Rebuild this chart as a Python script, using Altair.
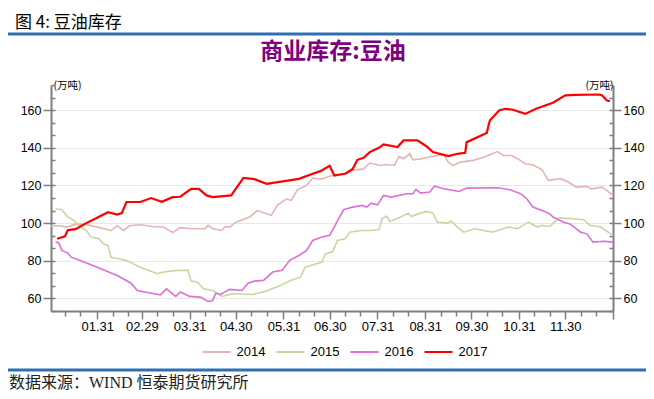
import altair as alt
import pandas as pd

# ---------------- data (day of year 0 = Jan 1, value in 万吨) ----------------
years = ["2014", "2015", "2016", "2017"]
colors = ["#E6B4B4", "#C6D7A2", "#DD6FD6", "#FF0000"]

s2014 = [(0, 98.6), (6, 98.6), (10, 97.9), (17, 99.6), (23, 99.2), (32, 97.5), (39, 96.0), (43, 98.6),
         (47, 96.1), (51, 98.6), (58, 99.1), (66, 98.2), (73, 97.9), (79, 95.0), (84, 97.6), (92, 97.0),
         (100, 97.0), (102, 98.8), (105, 97.0), (111, 96.1), (113, 98.2), (116, 97.9), (120, 100.5),
         (129, 103.2), (134, 106.7), (137, 105.8), (143, 104.1), (147, 109.4), (153, 112.9), (156, 112.0),
         (160, 117.7), (166, 120.0), (170, 123.9), (176, 123.4), (180, 124.6), (185, 125.8), (192, 126.2),
         (196, 128.0), (203, 128.8), (207, 131.9), (214, 130.6), (218, 131.1), (223, 130.6), (226, 135.4),
         (229, 134.2), (233, 136.8), (235, 133.6), (241, 134.2), (247, 135.4), (255, 136.5), (258, 132.4),
         (261, 130.6), (266, 132.4), (274, 133.3), (281, 135.0), (290, 138.0), (294, 135.9), (299, 135.9),
         (303, 134.2), (308, 131.5), (313, 131.0), (319, 128.3), (323, 122.7), (331, 123.6), (336, 121.8),
         (341, 119.1), (348, 119.5), (351, 118.2), (358, 119.1), (361, 117.3), (365, 114.7)]

s2015 = [(3, 107.6), (7, 107.1), (11, 103.2), (15, 101.4), (18, 98.8), (23, 96.1), (26, 92.6), (31, 91.7),
         (34, 89.0), (37, 88.1), (39, 81.9), (44, 81.1), (49, 80.2), (58, 76.6), (69, 73.1), (73, 74.0),
         (82, 74.9), (89, 74.9), (91, 69.2), (95, 68.7), (99, 65.1), (105, 64.2), (108, 62.8), (111, 61.1),
         (118, 62.5), (131, 62.1), (140, 63.9), (149, 66.9), (156, 69.6), (162, 71.3), (165, 76.6),
         (176, 79.3), (178, 83.5), (183, 84.9), (186, 90.8), (191, 91.7), (194, 95.2), (201, 96.1),
         (207, 96.1), (213, 96.5), (215, 102.3), (218, 103.7), (220, 100.9), (227, 103.2), (232, 105.3),
         (234, 103.5), (240, 105.3), (244, 106.2), (248, 105.3), (251, 100.5), (257, 100.0), (260, 101.0),
         (264, 97.9), (268, 95.2), (275, 97.0), (287, 95.2), (297, 97.9), (303, 97.0), (310, 100.5),
         (316, 97.9), (319, 98.8), (324, 98.2), (330, 102.8), (339, 102.3), (346, 101.8), (350, 98.8),
         (357, 97.9), (365, 93.5)]

s2016 = [(3, 89.9), (5, 89.6), (7, 85.5), (11, 84.1), (13, 81.9), (19, 80.2), (23, 78.8), (30, 76.6),
         (43, 72.2), (52, 68.1), (56, 64.2), (67, 62.5), (71, 61.9), (75, 65.1), (81, 61.1), (84, 63.4),
         (90, 61.1), (97, 60.7), (102, 58.4), (105, 58.9), (107, 62.8), (110, 62.1), (116, 64.8),
         (124, 64.2), (128, 68.1), (132, 69.2), (138, 69.6), (144, 74.0), (150, 74.9), (155, 80.2),
         (161, 82.8), (166, 85.5), (170, 90.8), (176, 92.6), (181, 93.5), (184, 98.0), (187, 102.7),
         (190, 107.1), (196, 108.5), (202, 109.4), (205, 108.5), (208, 110.6), (212, 109.7), (216, 114.7),
         (221, 113.8), (231, 115.6), (235, 115.6), (237, 117.9), (240, 115.9), (246, 116.5), (249, 119.6),
         (255, 118.2), (265, 116.8), (270, 118.6), (290, 118.8), (298, 117.7), (305, 115.6), (309, 112.9),
         (313, 108.5), (319, 106.7), (324, 104.9), (326, 103.2), (333, 100.5), (337, 99.6), (344, 95.2),
         (348, 94.3), (352, 89.9), (359, 90.4), (365, 89.9)]

s2017 = [(4, 91.7), (9, 93.0), (11, 96.3), (16, 96.8), (22, 99.6), (28, 102.0), (37, 105.8), (43, 104.5),
         (46, 105.3), (49, 111.2), (58, 111.2), (65, 113.3), (72, 111.3), (79, 113.8), (84, 114.0),
         (91, 118.2), (96, 118.2), (101, 114.7), (105, 113.8), (117, 114.7), (125, 124.0), (132, 123.4),
         (140, 120.9), (161, 123.5), (170, 126.2), (175, 127.6), (181, 130.4), (184, 125.3), (188, 125.8),
         (191, 126.2), (196, 128.8), (199, 133.6), (203, 134.7), (207, 137.7), (213, 140.0), (216, 141.8),
         (225, 140.4), (229, 143.9), (238, 143.9), (244, 140.7), (248, 137.7), (258, 135.6), (264, 136.8),
         (269, 137.3), (270, 143.0), (283, 147.8), (285, 154.5), (291, 159.8), (295, 160.7), (300, 160.2),
         (308, 158.0), (315, 160.7), (326, 163.9), (334, 167.8), (341, 168.1), (356, 168.3), (358, 167.8),
         (361, 165.1), (363, 164.8)]

month_end_days = [30, 59, 90, 120, 151, 181, 212, 243, 273, 304, 334, 365]
month_labels = ["01.31", "02.29", "03.31", "04.30", "05.31", "06.30",
                "07.31", "08.31", "09.30", "10.31", "11.30"]
month_len = [31, 29, 31, 30, 31, 30, 31, 31, 30, 31, 30, 31]
y_major = [60, 80, 100, 120, 140, 160]

header_text = "图 4: 豆油库存"
chart_title = "商业库存:豆油"
unit_text = "(万吨)"
footer_text = "数据来源：WIND 恒泰期货研究所"

# ---------------- build table ----------------
rows = []
for yr, s in zip(years, [s2014, s2015, s2016, s2017]):
    for d, v in s:
        rows.append({"year": yr, "day": d, "value": v})
df = pd.DataFrame(rows)

W, H = 562, 226
Y_DOM = [60 - 20 / 3, 160 + 40 / 3]
y_minor = [60 + 20 * k / 3 for k in range(-1, 18)]

x_minor = []
start = 0
for ln in month_len:
    x_minor += [start + 9, start + 19]
    start += ln

label_expr = "".join(f"datum.value == {d} ? '{lab}' : " for d, lab in zip(month_end_days, month_labels)) + "''"

AX = "#7F7F7F"
LAB_FONT = "Liberation Sans"
CJK = "Noto Sans CJK SC"
x_scale = alt.Scale(domain=[0, 365], nice=False, zero=False)

x_axis = alt.Axis(
    orient="bottom", values=month_end_days, labelExpr=label_expr, grid=False, title=None,
    tickSize=8, tickColor=AX, tickWidth=1.5, domainColor=AX, domainWidth=2,
    labelFont=LAB_FONT, labelFontSize=13, labelColor="black", labelPadding=1,
    labelOverlap=False, labelFlush=False,
)
x_minor_axis = alt.Axis(
    orient="bottom", values=x_minor, labels=False, domain=False, grid=False, title=None,
    tickSize=5, tickColor=AX, tickWidth=1.5,
)
y_scale = alt.Scale(domain=Y_DOM, nice=False, zero=False)

common_y = dict(tickColor=AX, tickWidth=1.5, domainColor=AX, domainWidth=2,
                labelFont=LAB_FONT, labelFontSize=12.5, labelColor="black",
                titleAngle=0, titleY=0, titleBaseline="middle", titleFont=CJK,
                titleFontSize=10.5, titleFontWeight="normal", titleColor="black")

left_axis = alt.Axis(orient="left", values=y_major, tickSize=8, labelPadding=2, grid=True,
                     gridColor="#E8E8E8", gridWidth=1, title=unit_text, titleX=2,
                     titleAlign="left", **common_y)
right_axis = alt.Axis(orient="right", values=y_major, tickSize=8, labelPadding=2, grid=False,
                      title=unit_text, titleX=0, titleAlign="right", **common_y)
left_in_axis = alt.Axis(orient="right", offset=-W, values=y_minor, tickSize=4, labels=False,
                        domain=False, grid=False, title=None, tickColor=AX, tickWidth=1.5)
right_in_axis = alt.Axis(orient="left", offset=-W, values=y_minor, tickSize=4, labels=False,
                         domain=False, grid=False, title=None, tickColor=AX, tickWidth=1.5)

base = alt.Chart(df)

lines = base.mark_line(interpolate="linear").encode(
    x=alt.X("day:Q", scale=x_scale, axis=x_axis),
    y=alt.Y("value:Q", scale=y_scale, axis=left_axis),
    color=alt.Color("year:N", scale=alt.Scale(domain=years, range=colors),
                    legend=alt.Legend(orient="none", legendX=150.5, legendY=252, direction="horizontal",
                                      columns=4, title=None, symbolType="stroke", symbolSize=784,
                                      symbolStrokeWidth=2, labelFont=LAB_FONT, labelFontSize=13,
                                      labelColor="black", labelOffset=5, columnPadding=7, padding=0)),
    strokeWidth=alt.condition(alt.datum.year == "2017", alt.value(2.2), alt.value(1.6)),
)

def ghost(yaxis, xaxis=None):
    return base.mark_line(strokeOpacity=0).encode(
        x=alt.X("day:Q", scale=x_scale, axis=xaxis),
        y=alt.Y("value:Q", scale=y_scale, axis=yaxis))

right_layer = ghost(right_axis, x_minor_axis)
left_in_layer = ghost(left_in_axis)
right_in_layer = ghost(right_in_axis)

def text_layer(t, x, y, **kw):
    return alt.Chart(pd.DataFrame({"t": [t]})).mark_text(**kw).encode(
        text="t:N", x=alt.value(x), y=alt.value(y))

header = text_layer(header_text, -36, -62, align="left", baseline="middle", font=CJK,
                    fontSize=17, color="black")
title = text_layer(chart_title, 282, -33, align="center", baseline="middle", font=CJK,
                   fontSize=23, fontWeight="bold", color="#800080")
footer = text_layer(footer_text, -42, 298, align="left", baseline="middle",
                    font="Liberation Serif, Noto Sans CJK SC", fontSize=16, color="#222222")

def hrule(y):
    return alt.Chart(pd.DataFrame({"a": [0]})).mark_rule(color="#2E6FB3", strokeWidth=3).encode(
        x=alt.value(-43), x2=alt.value(595), y=alt.value(y))

rule_top = hrule(-51)
rule_bottom = hrule(285)

chart = alt.layer(
    lines, right_layer, left_in_layer, right_in_layer,
    header, title, footer, rule_top, rule_bottom,
).resolve_scale(y="independent").resolve_axis(y="independent", x="independent").properties(
    width=W, height=H,
    padding={"left": 43, "top": 77, "right": 33, "bottom": 80},
    autosize=alt.AutoSizeParams(type="none"),
    background="white",
).configure_view(stroke=None)

chart.save("out.html", embed_options={"renderer": "svg", "actions": False})
